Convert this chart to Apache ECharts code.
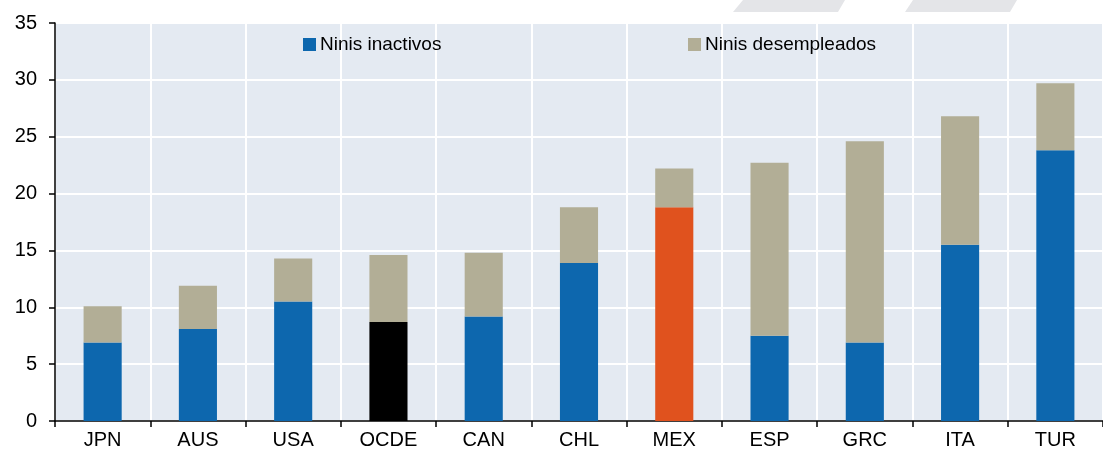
<!DOCTYPE html>
<html>
<head>
<meta charset="utf-8">
<script src="https://cdn.jsdelivr.net/npm/echarts@6/dist/echarts.min.js"></script>
<style>
  html, body { margin: 0; padding: 0; background: #fff; }
  #main { width: 1103px; height: 450px; }
</style>
</head>
<body>
<div id="main"></div>
<script>
// países
const countries = ['JPN', 'AUS', 'USA', 'OCDE', 'CAN', 'CHL', 'MEX', 'ESP', 'GRC', 'ITA', 'TUR'];
// ninis inactivos (%)
const inactivos = [6.9, 8.1, 10.5, 8.7, 9.2, 13.9, 18.8, 7.5, 6.9, 15.5, 23.8];
// ninis desempleados (%)
const desempleados = [3.2, 3.8, 3.8, 5.9, 5.6, 4.9, 3.4, 15.2, 17.7, 11.3, 5.9];
const yTicks = [0, 5, 10, 15, 20, 25, 30, 35];

const FONT = "'Liberation Sans', Arial, sans-serif";
const BLUE = '#0d67ae';
const TAN = '#b2ae96';
// colores resaltados
const highlight = { OCDE: '#000000', MEX: '#e0521e' };

const chart = echarts.init(document.getElementById('main'), null, { renderer: 'canvas' });

const legendBase = {
  top: 30,
  icon: 'rect',
  itemWidth: 13, itemHeight: 13, itemGap: 5,
  textStyle: { fontFamily: FONT, fontSize: 19, color: '#000', padding: [0, 0, 0, -1] }
};

const option = {
  animation: false,
  textStyle: { fontFamily: FONT },
  grid: {
    left: 55, right: -7, top: 23, bottom: 29,
    show: true, backgroundColor: '#e4eaf2', borderWidth: 0
  },
  legend: [
    Object.assign({ data: ['Ninis inactivos'], left: 298 }, legendBase),
    Object.assign({ data: ['Ninis desempleados'], left: 683 }, legendBase)
  ],
  graphic: [
    { type: 'polygon', shape: { points: [[743, 0], [845, 0], [838, 12], [733, 12]] }, style: { fill: '#e4e5e8' }, silent: true },
    { type: 'polygon', shape: { points: [[913, 0], [1017, 0], [1010, 12], [905, 12]] }, style: { fill: '#e4e5e8' }, silent: true }
  ],
  xAxis: {
    type: 'category',
    data: countries,
    axisLine: { lineStyle: { color: '#000', width: 1.5 } },
    axisTick: { show: true, length: 6, lineStyle: { color: '#000', width: 1.5 } },
    axisLabel: { color: '#000', fontSize: 20, fontFamily: FONT, margin: 9 },
    splitLine: { show: true, lineStyle: { color: '#fff', width: 2 } }
  },
  yAxis: {
    type: 'value',
    min: 0, max: 35, interval: 5,
    axisLine: { show: true, lineStyle: { color: '#000', width: 1.5 } },
    axisTick: { show: true, length: 6, lineStyle: { color: '#000', width: 1.5 } },
    axisLabel: {
      color: '#000', fontSize: 20, fontFamily: FONT, margin: 18,
      formatter: v => yTicks.includes(v) ? String(v) : ''
    },
    splitLine: { show: true, lineStyle: { color: '#fff', width: 2 } }
  },
  series: [
    {
      name: 'Ninis inactivos',
      type: 'bar',
      stack: 'ninis',
      barWidth: '40%',
      itemStyle: { color: BLUE },
      data: inactivos.map((v, i) => {
        const c = highlight[countries[i]];
        return c ? { value: v, itemStyle: { color: c } } : v;
      })
    },
    {
      name: 'Ninis desempleados',
      type: 'bar',
      stack: 'ninis',
      barWidth: '40%',
      itemStyle: { color: TAN },
      data: desempleados
    }
  ]
};

chart.setOption(option);
</script>
</body>
</html>
